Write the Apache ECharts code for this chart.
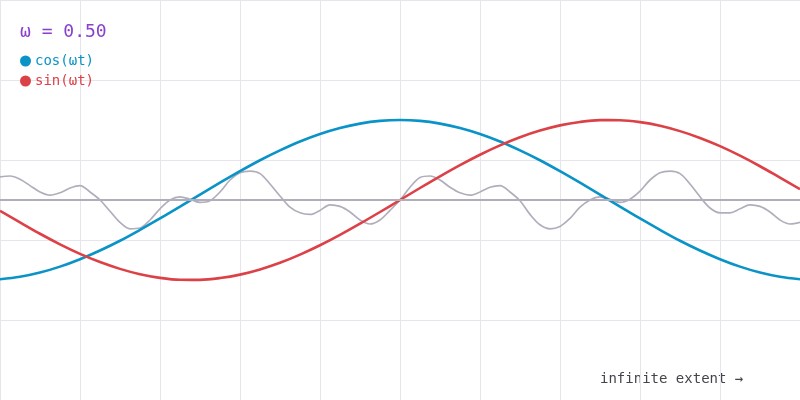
<!DOCTYPE html>
<html>
<head>
<meta charset="utf-8">
<script src="https://cdn.jsdelivr.net/npm/echarts@6/dist/echarts.min.js"></script>
<style>
html,body{margin:0;padding:0;background:#fff;}
#chart{width:800px;height:400px;}
</style>
</head>
<body>
<div id="chart"></div>
<script>
// curves sampled every quarter unit (1 unit = one vertical grid column) from -5 to 5
const curveStart = -5;
const curveStep = 0.25;
const cosValues = [-0.991,-0.960,-0.907,-0.833,-0.740,-0.631,-0.509,-0.373,-0.231,-0.083,0.068,0.216,0.360,0.497,0.620,0.731,0.825,0.900,0.955,0.989,1.000,
  0.989,0.955,0.900,0.825,0.731,0.620,0.497,0.360,0.216,0.068,-0.083,-0.231,-0.373,-0.509,-0.631,-0.740,-0.833,-0.907,-0.960,-0.991];
const sinValues = [-0.135,-0.279,-0.422,-0.554,-0.673,-0.776,-0.861,-0.928,-0.973,-0.997,-0.998,-0.976,-0.933,-0.868,-0.785,-0.683,-0.566,-0.436,-0.296,-0.150,0,
  0.150,0.296,0.436,0.566,0.683,0.785,0.868,0.933,0.976,0.998,0.997,0.973,0.928,0.861,0.776,0.673,0.554,0.422,0.279,0.135];
// gray wave sampled every 1/8 unit from -5 to 5
const waveStart = -5;
const waveStep = 0.125;
const waveValues = [
  0.29,0.30,0.26,0.18,0.10,0.06,0.09,0.15,0.18,0.10,
  0,-0.14,-0.28,-0.36,-0.35,-0.25,-0.11,0,0.04,0.01,
  -0.03,-0.01,0.10,0.25,0.34,0.36,0.33,0.20,0.05,-0.09,
  -0.16,-0.18,-0.13,-0.06,-0.08,-0.15,-0.25,-0.30,-0.25,-0.13,
  0,0.16,0.28,0.30,0.25,0.16,0.09,0.06,0.10,0.16,
  0.18,0.10,-0.01,-0.18,-0.31,-0.36,-0.33,-0.23,-0.09,0,
  0.04,0.01,-0.03,0.01,0.11,0.25,0.34,0.36,0.33,0.20,
  0.04,-0.10,-0.16,-0.16,-0.11,-0.06,-0.08,-0.15,-0.25,-0.30,
  -0.28
];
const seriesNames = ['cos(ωt)','sin(ωt)'];
const titleText = 'ω = 0.50';
const footText = 'infinite extent →';

const BLUE = '#0a93c6';
const RED = '#dc4147';
const GRAY = '#b1aebb';
const MONO = '"DejaVu Sans Mono", "Liberation Mono", monospace';

const cosData = cosValues.map((v,i)=>[curveStart + i*curveStep, v]);
const sinData = sinValues.map((v,i)=>[curveStart + i*curveStep, v]);
const waveData = waveValues.map((v,i)=>[waveStart + i*waveStep, v]);

const chart = echarts.init(document.getElementById('chart'), null, {renderer:'canvas'});
chart.setOption({
  animation:false,
  backgroundColor:'#ffffff',
  title:{
    text:titleText,
    left:15, top:18,
    textStyle:{fontFamily:MONO,fontSize:18,fontWeight:'normal',color:'#8a40cc'}
  },
  legend:{
    orient:'vertical',
    left:15, top:49,
    itemWidth:11, itemHeight:11, itemGap:6,
    icon:'circle',
    data:[
      {name:seriesNames[0], textStyle:{color:BLUE}},
      {name:seriesNames[1], textStyle:{color:RED}}
    ],
    textStyle:{fontFamily:MONO,fontSize:14,padding:[0,0,0,-1]}
  },
  graphic:[{
    type:'text', left:600, top:372,
    style:{text:footText, font:'14px '+MONO, fill:'#44444c'}
  }],
  grid:{left:0,right:0,top:0,bottom:0},
  xAxis:{
    type:'value', min:-5, max:5, interval:1,
    axisLine:{show:false}, axisTick:{show:false}, axisLabel:{show:false},
    splitLine:{show:true,lineStyle:{color:'#e5e5eb',width:1}}
  },
  yAxis:[{
    type:'value', min:-2.5, max:2.5,
    axisLine:{show:false}, axisTick:{show:false}, axisLabel:{show:false},
    splitLine:{show:false}
  },{
    type:'value', min:0, max:5, interval:1,
    axisLine:{show:false}, axisTick:{show:false}, axisLabel:{show:false},
    splitLine:{show:true,lineStyle:{color:'#e5e5eb',width:1}}
  }],
  series:[
    {
      name:'wave', type:'line', yAxisIndex:0, data:waveData, smooth:0.33,
      showSymbol:false, symbol:'none', silent:true,
      lineStyle:{color:GRAY,width:1.7},
      markLine:{
        silent:true, symbol:'none', label:{show:false},
        lineStyle:{color:GRAY,width:2,type:'solid'},
        data:[{yAxis:0}]
      },
      z:2
    },
    {
      name:seriesNames[0], type:'line', yAxisIndex:0, data:cosData, smooth:0.33,
      showSymbol:false, symbol:'circle', itemStyle:{color:BLUE},
      lineStyle:{color:BLUE,width:2.6}, z:3
    },
    {
      name:seriesNames[1], type:'line', yAxisIndex:0, data:sinData, smooth:0.33,
      showSymbol:false, symbol:'circle', itemStyle:{color:RED},
      lineStyle:{color:RED,width:2.6}, z:3
    }
  ]
});
</script>
</body>
</html>
